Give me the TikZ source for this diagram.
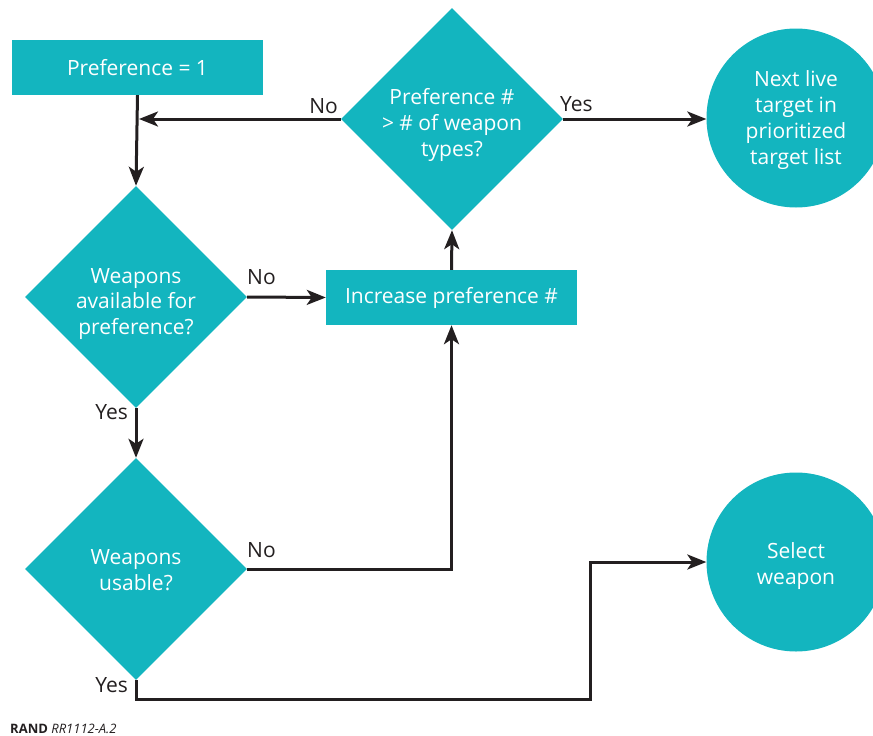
\documentclass[tikz,border=0pt]{standalone}
\usepackage{fontspec}
\setmainfont{Open Sans}
\usetikzlibrary{shapes.geometric,arrows.meta}
\definecolor{teal}{HTML}{13B5BF}
\definecolor{ink}{HTML}{231F20}
\tikzset{
  x=1pt, y=-1pt,
  every node/.style={font=\fontsize{21}{25.8}\selectfont},
  boxnode/.style={fill=teal, text=white, minimum width=251pt, minimum height=55pt, inner sep=0pt},
  decision/.style={diamond, fill=teal, minimum width=222pt, minimum height=222pt,
    inner sep=0pt, aspect=1},
  terminal/.style={circle, fill=teal, minimum size=179pt, inner sep=0pt},
  inwhite/.style={text=white, align=center, inner sep=0pt},
  flow/.style={draw=ink, line width=3pt, -{Stealth[length=19pt, width=15pt, inset=5pt]}},
  lbl/.style={text=ink, inner sep=0pt}
}
\begin{document}
\begin{tikzpicture}
\clip (0,0) rectangle (873,736);
\useasboundingbox (0,0) rectangle (873,736);

% process boxes
\node[boxnode] (start) at (137.5,67.5) {Preference = 1};
\node[boxnode] (incr) at (451.5,297.5) {Increase preference \#};

% decisions, with their questions set a little below centre
\node[decision] (more) at (452,119) {};
\node[decision] (avail) at (136,297) {};
\node[decision] (usable) at (136,569) {};
\node[inwhite] (moreq) at ([yshift=-6pt]more.center) {Preference \#\\> \# of weapon\\types?};
\node[inwhite] (availq) at ([yshift=-7pt]avail.center) {Weapons\\available for\\preference?};
\node[inwhite] (usableq) at ([yshift=-1pt]usable.center) {Weapons\\usable?};

% end points
\node[terminal] (next) at (796,118) {};
\node[terminal] (select) at (796,562) {};
\node[inwhite] (nextq) at ([yshift=-2pt]next.center) {Next live\\target in\\prioritized\\target list};
\node[inwhite] (selectq) at ([yshift=-4pt]select.center) {Select\\weapon};

% connectors
\coordinate (join) at (start.south |- more.west);
\draw[flow] (start.south) -- (avail.north);
\draw[flow] (more.west) -- ([xshift=1.5pt]join);
\draw[flow] (more.east) -- (next.west |- more.east);
\draw[flow] (avail.east) -- (incr.west);
\draw[flow] (incr.north) -- (more.south);
\draw[flow] (avail.south) -- (usable.north);
\draw[flow] (usable.east) -| (incr.south);
\coordinate (low) at (136,699);
\coordinate (bend) at (590,699);
\draw[flow] (usable.south) -- (low) -- (bend) |- (select.west);

% branch labels
\node[lbl, anchor=south east] at (338,114) {No};
\node[lbl, anchor=south west] at (560,112) {Yes};
\node[lbl, anchor=south west] at (247,285) {No};
\node[lbl, anchor=south east] at (128,420) {Yes};
\node[lbl, anchor=south west] at (247,558) {No};
\node[lbl, anchor=south east] at (128,693) {Yes};

% credit line
\node[anchor=base west, inner sep=0pt, text=ink, font=\fontsize{13}{15}\selectfont] at (10,733)
  {\textbf{RAND} \textit{RR1112-A.2}};
\end{tikzpicture}
\end{document}
